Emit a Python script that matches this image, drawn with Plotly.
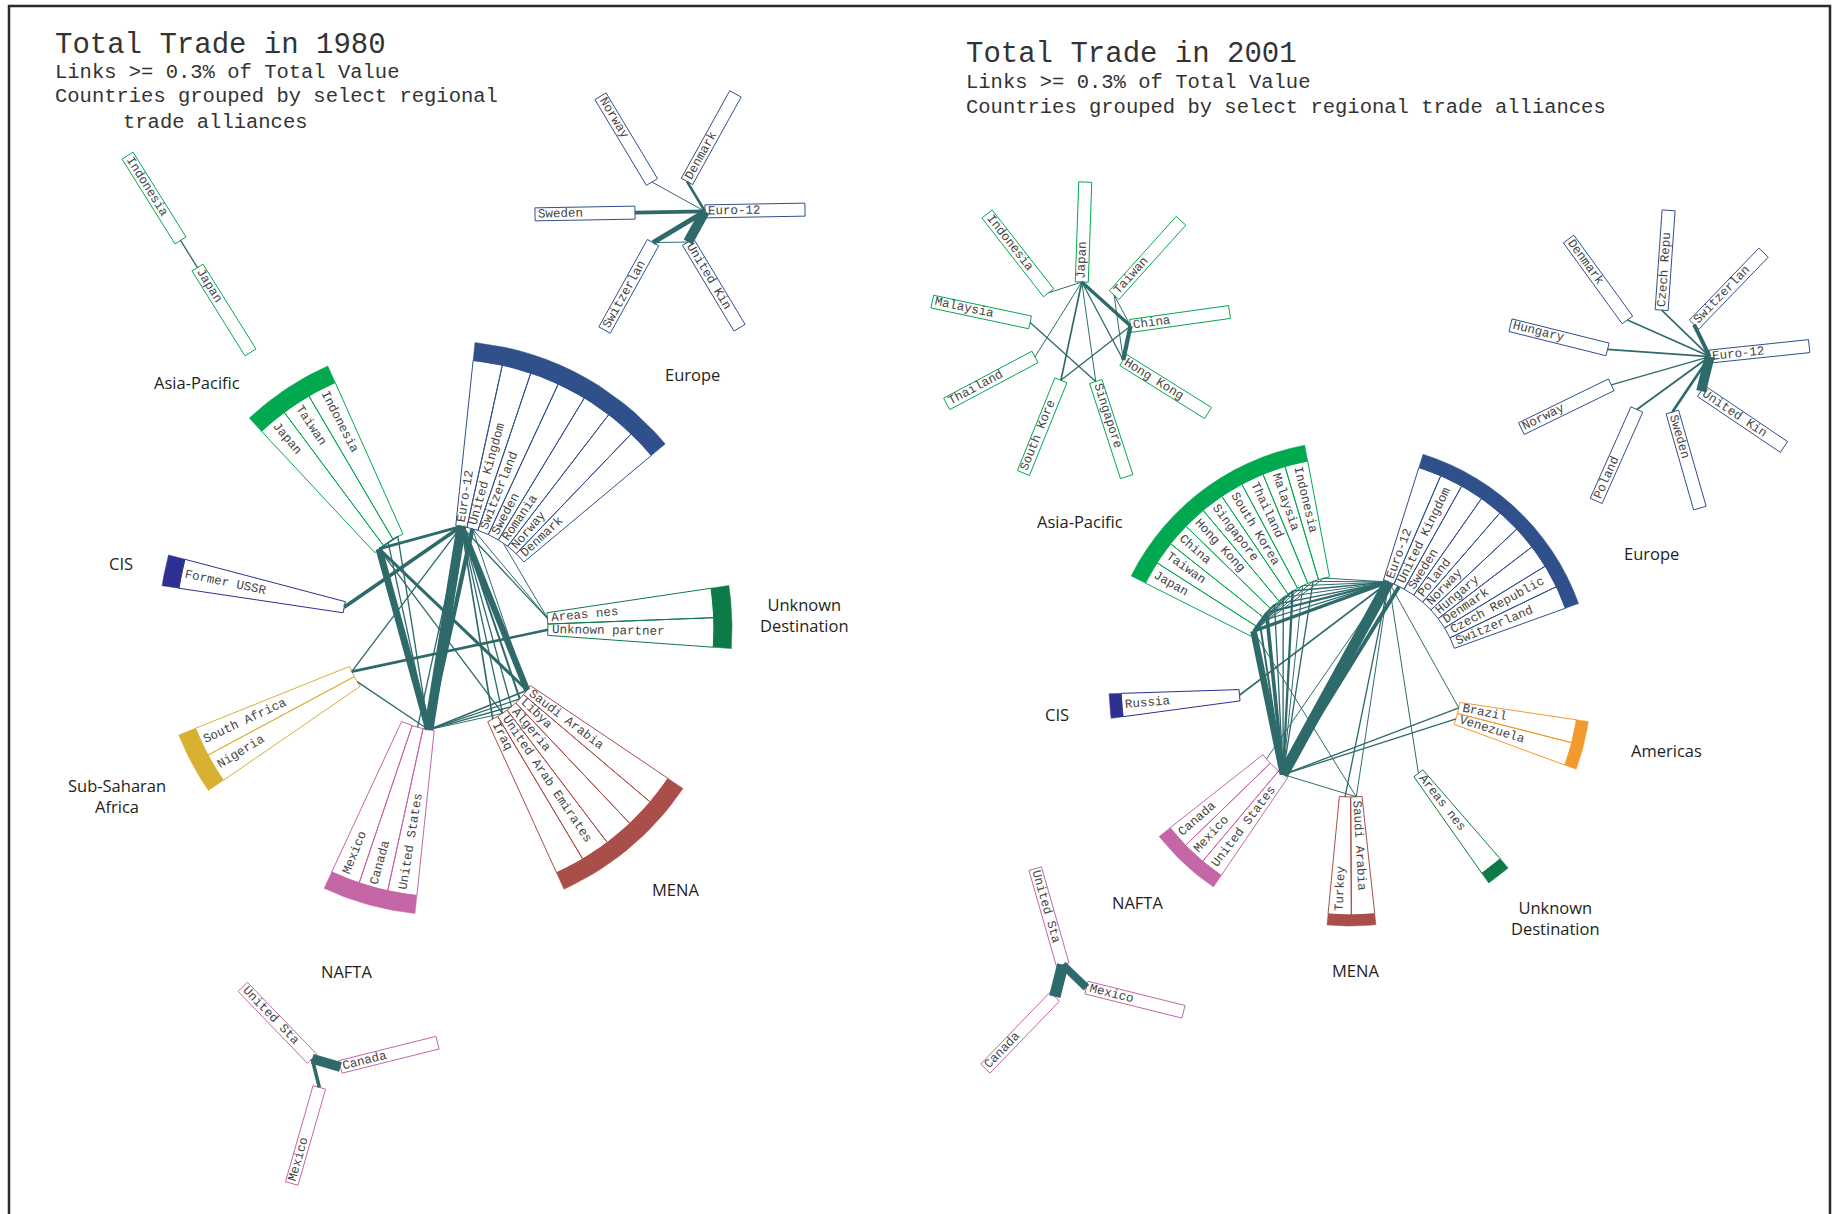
import numpy as np
import plotly.graph_objects as go

# ---------------- data ----------------
# 1980 ring: countries per alliance, listed clockwise
europe_80 = ["Euro-12", "United Kingdom", "Switzerland", "Sweden", "Romania", "Norway", "Denmark"]
unknown_80 = ["Areas nes", "Unknown partner"]
mena_80 = ["Saudi Arabia", "Libya", "Algeria", "United Arab Emirates", "Iraq"]
nafta_80 = ["United States", "Canada", "Mexico"]
ssa_80 = ["Nigeria", "South Africa"]
cis_80 = ["Former USSR"]
asia_80 = ["Japan", "Taiwan", "Indonesia"]

# links between countries, % of total trade value
links_80 = [
    ("Euro-12", "United States", 2.9),
    ("United Kingdom", "United States", 1.3),
    ("Japan", "United States", 2.1),
    ("Euro-12", "Saudi Arabia", 1.9),
    ("Euro-12", "Former USSR", 1.1),
    ("Japan", "Euro-12", 0.9),
    ("Japan", "Saudi Arabia", 0.9),
    ("South Africa", "Unknown partner", 0.8),
    ("South Africa", "Euro-12", 0.4),
    ("Nigeria", "United States", 0.4),
    ("Euro-12", "Libya", 0.6),
    ("Euro-12", "Algeria", 0.4),
    ("Euro-12", "United Arab Emirates", 0.4),
    ("Euro-12", "Iraq", 0.5),
    ("United Kingdom", "Saudi Arabia", 0.3),
    ("United States", "Saudi Arabia", 0.5),
    ("United States", "Libya", 0.4),
    ("United States", "Algeria", 0.4),
    ("United States", "United Arab Emirates", 0.3),
    ("Euro-12", "Areas nes", 0.4),
    ("United Kingdom", "Areas nes", 0.3),
    ("Romania", "Areas nes", 0.3),
    ("Euro-12", "Canada", 0.4),
    ("Japan", "Indonesia", 0.5),
    ("Indonesia", "United States", 0.4),
    ("Taiwan", "United States", 0.4),
    ("Japan", "United Arab Emirates", 0.4),
]

# 1980 intra-alliance networks
asia_net_80 = ["Indonesia", "Japan"]
asia_net_links_80 = [("Indonesia", "Japan", 0.4)]
europe_net_80 = ["Euro-12", "United Kingdom", "Switzerland", "Sweden", "Norway", "Denmark"]
europe_net_links_80 = [
    ("Euro-12", "United Kingdom", 3.0),
    ("Euro-12", "Switzerland", 1.5),
    ("Euro-12", "Sweden", 1.2),
    ("Euro-12", "Denmark", 0.8),
    ("Euro-12", "Norway", 0.3),
    ("Switzerland", "United Kingdom", 0.3),
]
nafta_net_80 = ["United States", "Canada", "Mexico"]
nafta_net_links_80 = [("United States", "Canada", 3.0), ("United States", "Mexico", 1.1)]

# 2001 ring
europe_01 = ["Euro-12", "United Kingdom", "Sweden", "Poland", "Norway", "Hungary",
             "Denmark", "Czech Republic", "Switzerland"]
americas_01 = ["Brazil", "Venezuela"]
unknown_01 = ["Areas nes"]
mena_01 = ["Saudi Arabia", "Turkey"]
nafta_01 = ["United States", "Mexico", "Canada"]
cis_01 = ["Russia"]
asia_01 = ["Japan", "Taiwan", "China", "Hong Kong", "Singapore", "South Korea",
           "Thailand", "Malaysia", "Indonesia"]

links_01 = [
    ("Euro-12", "United States", 3.3),
    ("United Kingdom", "United States", 1.2),
    ("Japan", "United States", 2.0),
    ("Japan", "Euro-12", 1.0),
    ("China", "United States", 1.1),
    ("China", "Euro-12", 0.7),
    ("Taiwan", "United States", 0.6),
    ("Taiwan", "Euro-12", 0.4),
    ("Hong Kong", "United States", 0.4),
    ("Hong Kong", "Euro-12", 0.4),
    ("Singapore", "United States", 0.4),
    ("Singapore", "Euro-12", 0.3),
    ("South Korea", "United States", 0.7),
    ("South Korea", "Euro-12", 0.5),
    ("Thailand", "United States", 0.3),
    ("Thailand", "Euro-12", 0.3),
    ("Malaysia", "United States", 0.4),
    ("Malaysia", "Euro-12", 0.3),
    ("Indonesia", "Euro-12", 0.3),
    ("Japan", "China", 0.8),
    ("Japan", "South Korea", 0.5),
    ("Japan", "Taiwan", 0.4),
    ("China", "Hong Kong", 0.6),
    ("Japan", "Hong Kong", 0.3),
    ("Japan", "Singapore", 0.3),
    ("Japan", "Thailand", 0.3),
    ("Japan", "Malaysia", 0.3),
    ("Japan", "Indonesia", 0.3),
    ("China", "South Korea", 0.3),
    ("Euro-12", "Russia", 0.5),
    ("Euro-12", "Turkey", 0.4),
    ("Euro-12", "Saudi Arabia", 0.3),
    ("United States", "Saudi Arabia", 0.3),
    ("Japan", "Saudi Arabia", 0.3),
    ("Euro-12", "Areas nes", 0.3),
    ("Euro-12", "Brazil", 0.3),
    ("United States", "Brazil", 0.4),
    ("United States", "Venezuela", 0.4),
    ("Canada", "Euro-12", 0.3),
]

# 2001 intra-alliance networks
asia_net_01 = ["Japan", "Taiwan", "China", "Hong Kong", "Singapore", "South Korea",
               "Thailand", "Malaysia", "Indonesia"]
asia_net_links_01 = [
    ("Japan", "China", 1.0),
    ("China", "Hong Kong", 1.3),
    ("Japan", "South Korea", 0.5),
    ("Japan", "Hong Kong", 0.4),
    ("Japan", "Singapore", 0.3),
    ("Japan", "Thailand", 0.3),
    ("Japan", "Indonesia", 0.3),
    ("Taiwan", "Hong Kong", 0.3),
    ("Taiwan", "China", 0.3),
    ("Malaysia", "Singapore", 0.4),
    ("South Korea", "China", 0.4),
]
europe_net_01 = ["Euro-12", "United Kingdom", "Sweden", "Poland", "Norway", "Hungary",
                 "Denmark", "Czech Republic", "Switzerland"]
europe_net_links_01 = [
    ("Euro-12", "United Kingdom", 3.0),
    ("Euro-12", "Switzerland", 1.2),
    ("Euro-12", "Sweden", 0.8),
    ("Euro-12", "Poland", 0.6),
    ("Euro-12", "Czech Republic", 0.5),
    ("Euro-12", "Denmark", 0.5),
    ("Euro-12", "Hungary", 0.5),
    ("Euro-12", "Norway", 0.4),
]
nafta_net_01 = ["United States", "Mexico", "Canada"]
nafta_net_links_01 = [("United States", "Canada", 3.5), ("United States", "Mexico", 2.4)]

# ---------------- layout / style ----------------
W, H = 1839, 1214
MONO = "Courier New, Liberation Mono, monospace"
SANS = "Open Sans, Noto Sans, sans-serif"
TXT = "#444444"
LINK = "#2F6A6B"
LW = 3.3          # px of line width per % of total value
LABEL_FS = 12.5

COL = {
    "Europe": "#30508C",
    "Asia-Pacific": "#00A94F",
    "CIS": "#2E3192",
    "Unknown Destination": "#0E7A47",
    "MENA": "#A94E48",
    "NAFTA": "#C566A6",
    "Sub-Saharan Africa": "#D8B032",
    "Americas": "#F29A2E",
}

# ring geometry: centre, inner radius, radius where band starts, degrees per country
RING_80 = dict(c=(445, 628), r0=103, rb=269, step=6.3)
RING_01 = dict(c=(1350, 686), r0=111, rb=229, step=5.85)

# region: (countries, start angle, band width, label angle, label radius)
REGIONS_80 = [
    ("Europe", europe_80, 84, 18, 45.7, 354),
    ("Unknown Destination", unknown_80, 8.5, 18, 2.0, 360),
    ("MENA", mena_80, -34, 18, -48.6, 349),
    ("NAFTA", nafta_80, -96, 18, -106, 357),
    ("Sub-Saharan Africa", ssa_80, -145.5, 18, -152.9, 369),
    ("CIS", cis_80, 171.5, 17, 168.8, 330),
    ("Asia-Pacific", asia_80, 133, 18, 135.2, 349),
]
REGIONS_01 = [
    ("Europe", europe_01, 72.5, 14, 23.7, 329),
    ("Americas", americas_01, -8.5, 12, -11.6, 323),
    ("Unknown Destination", unknown_01, -49, 12, -48.4, 310),
    ("MENA", mena_01, -83.8, 11, -88.8, 285),
    ("NAFTA", nafta_01, -124.2, 14, -134.5, 303),
    ("CIS", cis_01, -172.3, 12, -174.5, 294),
    ("Asia-Pacific", asia_01, 153.3, 16, 148.6, 316),
]

# small networks: (countries, links, region, centre, inner radius, first angle)
NETS = [
    (asia_net_80, asia_net_links_80, "Asia-Pacific", (189, 254), 16, 122),
    (europe_net_80, europe_net_links_80, "Europe", (670, 212), 35, 1),
    (nafta_net_80, nafta_net_links_80, "NAFTA", (324, 1071), 17, 134),
    (asia_net_01, asia_net_links_01, "Asia-Pacific", (1080, 333), 51, 88),
    (europe_net_01, europe_net_links_01, "Europe", (1658, 362), 52, 6),
    (nafta_net_01, nafta_net_links_01, "NAFTA", (1068, 983), 19, 106),
]
BOX_LEN = 100
BOX_HALF = 6.5


def pt(c, r, a):
    t = np.radians(a)
    return c[0] + r * np.cos(t), c[1] - r * np.sin(t)


def arc(c, r, a0, a1, n=16):
    t = np.radians(np.linspace(a0, a1, n))
    return list(c[0] + r * np.cos(t)), list(c[1] - r * np.sin(t))


def sector(c, r_in, r_out, a0, a1):
    xi, yi = arc(c, r_in, a0, a1)
    xo, yo = arc(c, r_out, a1, a0)
    return xi + xo + [xi[0]], yi + yo + [yi[0]]


def radial_text(fig, c, r_in, r_out, a, text, pad=4):
    L = 0.6 * LABEL_FS * len(text)
    if np.cos(np.radians(a)) > 1e-6:
        r = r_in + pad + L / 2
        ang = -a
    else:
        r = r_out - pad - L / 2
        ang = -(a + 180)
    ang = (ang + 180) % 360 - 180
    x, y = pt(c, r, a)
    fig.add_annotation(x=x, y=y, text=text, textangle=ang, showarrow=False,
                       xanchor="center", yanchor="middle",
                       font=dict(family=MONO, size=LABEL_FS, color=TXT))


def add_links(fig, ends, links):
    for a, b, v in links:
        (x0, y0), (x1, y1) = ends[a], ends[b]
        fig.add_trace(go.Scatter(x=[x0, x1], y=[y0, y1], mode="lines",
                                 line=dict(color=LINK, width=max(0.9, v * LW)),
                                 hoverinfo="skip", showlegend=False))


def draw_ring(fig, ring, regions, links):
    c, r0, rb, step = ring["c"], ring["r0"], ring["rb"], ring["step"]
    ends = {}
    for name, countries, start, band, la, lr in regions:
        col = COL[name]
        wx, wy = [], []
        for i, ctry in enumerate(countries):
            a0 = start - i * step
            xs, ys = sector(c, r0, rb, a0, a0 - step)
            wx += xs + [None]
            wy += ys + [None]
            mid = a0 - step / 2
            ends[ctry] = pt(c, r0, mid)
            radial_text(fig, c, r0, rb, mid, ctry)
        fig.add_trace(go.Scatter(x=wx, y=wy, mode="lines", fill="toself",
                                 fillcolor="white", line=dict(color=col, width=1),
                                 hoverinfo="skip", showlegend=False))
        bx, by = sector(c, rb, rb + band, start, start - len(countries) * step)
        fig.add_trace(go.Scatter(x=bx, y=by, mode="lines", fill="toself",
                                 fillcolor=col, line=dict(color=col, width=0.5),
                                 hoverinfo="skip", showlegend=False))
        lx, ly = pt(c, lr, la)
        fig.add_annotation(x=lx, y=ly, text=name.replace(" ", "<br>", 1),
                           showarrow=False, xanchor="center", yanchor="middle",
                           font=dict(family=SANS, size=16.5, color="#231F20"))
    add_links(fig, ends, links)


def draw_net(fig, countries, links, region, c, r0, first):
    col = COL[region]
    n = len(countries)
    ends = {}
    bx, by = [], []
    for i, ctry in enumerate(countries):
        a = first - i * 360.0 / n
        t = np.radians(a)
        nx, ny = -np.sin(t) * BOX_HALF, -np.cos(t) * BOX_HALF
        xi, yi = pt(c, r0, a)
        xo, yo = pt(c, r0 + BOX_LEN, a)
        bx += [xi + nx, xo + nx, xo - nx, xi - nx, xi + nx, None]
        by += [yi + ny, yo + ny, yo - ny, yi - ny, yi + ny, None]
        ends[ctry] = (xi, yi)
        radial_text(fig, c, r0, r0 + BOX_LEN, a, ctry[:10], pad=3)
    fig.add_trace(go.Scatter(x=bx, y=by, mode="lines", fill="toself",
                             fillcolor="white", line=dict(color=col, width=1),
                             hoverinfo="skip", showlegend=False))
    add_links(fig, ends, links)


fig = go.Figure()
draw_ring(fig, RING_80, REGIONS_80, links_80)
draw_ring(fig, RING_01, REGIONS_01, links_01)
for net in NETS:
    draw_net(fig, *net)

# titles
titles = [
    (53, 45, "Total Trade in 1980", 29),
    (53, 72, "Links >= 0.3% of Total Value", 20.5),
    (53, 96, "Countries grouped by select regional", 20.5),
    (121, 122, "trade alliances", 20.5),
    (964, 54, "Total Trade in 2001", 29),
    (964, 82, "Links >= 0.3% of Total Value", 20.5),
    (964, 107, "Countries grouped by select regional trade alliances", 20.5),
]
for x, y, t, s in titles:
    fig.add_annotation(x=x, y=y, text=t, showarrow=False, xanchor="left",
                       yanchor="middle", font=dict(family=MONO, size=s, color="#333333"))

# frame (left, top, right edges; the bottom edge is cut off in the original)
fig.add_trace(go.Scatter(x=[9, 9, 1830, 1830], y=[1214, 6, 6, 1214], mode="lines",
                         line=dict(color="#2B2B2B", width=2.5),
                         hoverinfo="skip", showlegend=False))

fig.update_xaxes(range=[0, W], visible=False, fixedrange=True)
fig.update_yaxes(range=[H, 0], visible=False, fixedrange=True)
fig.update_layout(width=W, height=H, autosize=False,
                  margin=dict(l=0, r=0, t=0, b=0),
                  plot_bgcolor="white", paper_bgcolor="white",
                  showlegend=False)
fig.write_html("out.html", config={"displayModeBar": False},
               post_script="document.body.style.margin='0';"
                           "document.body.style.overflow='hidden';")
